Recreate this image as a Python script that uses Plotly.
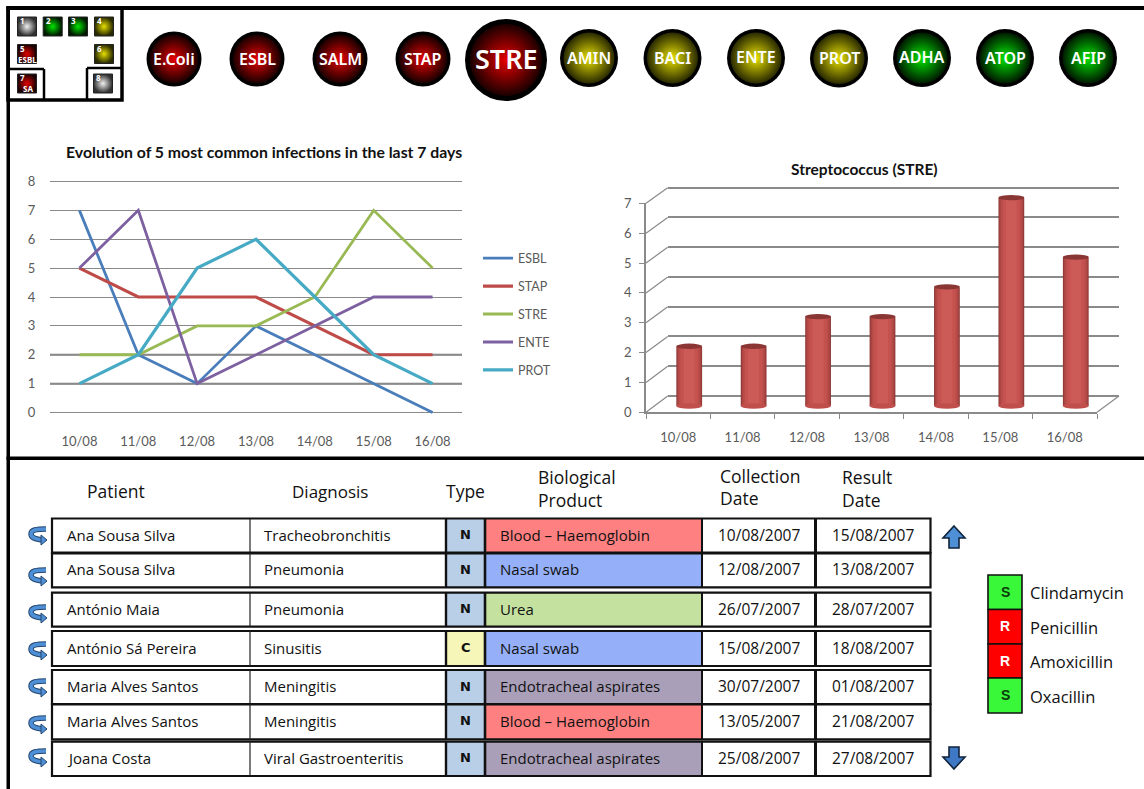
import plotly.graph_objects as go

W, H = 1144, 789

# ---------- data ----------
days = ["10/08", "11/08", "12/08", "13/08", "14/08", "15/08", "16/08"]
esbl = [7, 2, 1, 3, 2, 1, 0]
stap = [5, 4, 4, 4, 3, 2, 2]
stre = [2, 2, 3, 3, 4, 7, 5]
ente = [5, 7, 1, 2, 3, 4, 4]
prot = [1, 2, 5, 6, 4, 2, 1]
series_names = ["ESBL", "STAP", "STRE", "ENTE", "PROT"]
bar_values = [2, 2, 3, 3, 4, 7, 5]
line_ticks = [0, 1, 2, 3, 4, 5, 6, 7, 8]
bar_ticks = [0, 1, 2, 3, 4, 5, 6, 7]

button_labels = ["E.Coli", "ESBL", "SALM", "STAP", "STRE", "AMIN", "BACI", "ENTE", "PROT", "ADHA", "ATOP", "AFIP"]
button_status = ["red", "red", "red", "red", "red", "yellow", "yellow", "yellow", "yellow", "green", "green", "green"]

mini_numbers = ["1", "2", "3", "4", "5", "6", "7", "8"]
mini_status = ["gray", "green", "green", "yellow", "red", "yellow", "red", "gray"]
mini_labels = ["", "", "", "", "ESBL", "", "SA", ""]

patients = ["Ana Sousa Silva", "Ana Sousa Silva", "António Maia", "António Sá Pereira",
            "Maria Alves Santos", "Maria Alves Santos", "Joana Costa"]
diagnoses = ["Tracheobronchitis", "Pneumonia", "Pneumonia", "Sinusitis",
             "Meningitis", "Meningitis", "Viral Gastroenteritis"]
types = ["N", "N", "N", "C", "N", "N", "N"]
products = ["Blood – Haemoglobin", "Nasal swab", "Urea", "Nasal swab",
            "Endotracheal aspirates", "Blood – Haemoglobin", "Endotracheal aspirates"]
collection = ["10/08/2007", "12/08/2007", "26/07/2007", "15/08/2007", "30/07/2007", "13/05/2007", "25/08/2007"]
result = ["15/08/2007", "13/08/2007", "28/07/2007", "18/08/2007", "01/08/2007", "21/08/2007", "27/08/2007"]

drugs = ["Clindamycin", "Penicillin", "Amoxicillin", "Oxacillin"]
sensitivity = ["S", "R", "R", "S"]

# ---------- style ----------
FONT = "Open Sans"
CHART_FONT = "Lato"
GREY = "#5a5a5a"
GRID = "#8a8a8a"
series_colors = ["#4a7ebb", "#be4b48", "#98b954", "#7d60a0", "#46aac5"]
series_widths = [2.8, 3.2, 2.8, 2.8, 3.2]
centre = {"red": "#e60000", "yellow": "#e6e000", "green": "#00e600", "gray": "#f0f0f0"}
edge = {"red": "#1a0000", "yellow": "#2a2a00", "green": "#001a00", "gray": "#303030"}
product_fill = {"Blood": "#ff8080", "Nasal": "#95b0f8", "Urea": "#c4e1a0", "Endotracheal": "#a99fb8"}
type_fill = {"N": "#b9cfe8", "C": "#f5f6b8"}
sens_fill = {"S": "#39f739", "R": "#ff0000"}
sens_text = {"S": "#0b3b0b", "R": "#ffffff"}


def dx(a, b):
    return [a / W, b / W]


def dy(top, bottom):
    return [1 - bottom / H, 1 - top / H]


fig = go.Figure()
shapes = []
notes = []


def rect(x0, y0, x1, y1, fill=None, line=None, lw=0):
    shapes.append(dict(type="rect", xref="x5", yref="y5", x0=x0, y0=y0, x1=x1, y1=y1,
                       fillcolor=fill or "rgba(0,0,0,0)",
                       line=dict(color=line or "rgba(0,0,0,0)", width=lw)))


def seg(x0, y0, x1, y1, color="#000", lw=1, xref="x5", yref="y5", layer="above"):
    shapes.append(dict(type="line", xref=xref, yref=yref, x0=x0, y0=y0, x1=x1, y1=y1,
                       layer=layer, line=dict(color=color, width=lw)))


def note(x, y, text, size=13, color="#111", anchor="left", font=FONT, bold=False, weight=None):
    f = dict(family=font, size=size, color=color)
    if weight:
        f["weight"] = weight
    notes.append(dict(xref="x5", yref="y5", x=x - 2 if anchor == "left" else x, y=y,
                      text=f"<b>{text}</b>" if bold else text,
                      showarrow=False, xanchor=anchor, yanchor="middle", font=f))


def path(d, fill="rgba(0,0,0,0)", line="rgba(0,0,0,0)", lw=1):
    shapes.append(dict(type="path", xref="x5", yref="y5", path=d, fillcolor=fill,
                       line=dict(color=line, width=lw)))


# ---------- line chart ----------
for name, vals, col, lw in zip(series_names, [esbl, stap, stre, ente, prot], series_colors, series_widths):
    fig.add_trace(go.Scatter(x=days, y=vals, mode="lines", name=name, legendgroup=name,
                             line=dict(color=col, width=lw), xaxis="x", yaxis="y"))
for v in [1, 2]:
    seg(-0.5, v, 6.5, v, color="#777777", lw=2, xref="x", yref="y", layer="below")

# ---------- 3D-look bar chart ----------
# front axes carry labels; the wall axes carry the grid; bars sit at mid depth
fig.add_trace(go.Scatter(x=days, y=bar_values, mode="markers", marker=dict(opacity=0), hoverinfo="skip",
                         showlegend=False, xaxis="x2", yaxis="y2"))
fig.add_trace(go.Scatter(x=days, y=bar_values, mode="markers", marker=dict(opacity=0), hoverinfo="skip",
                         showlegend=False, xaxis="x3", yaxis="y3"))
bands = [(0.40, "#8f3a38"), (0.37, "#a84442"), (0.33, "#b84c49"), (0.27, "#c5524f"), (0.17, "#cc5a57")]
for wd, col in bands:
    fig.add_trace(go.Bar(x=days, y=bar_values, width=wd, marker=dict(color=col, line=dict(width=0)),
                         showlegend=False, xaxis="x4", yaxis="y4"))
for i, v in enumerate(bar_values):
    shapes.append(dict(type="circle", xref="x4", yref="y4", x0=i - 0.2, x1=i + 0.2, y0=-0.09, y1=0.09,
                       fillcolor="#c04f4c", line=dict(width=0)))
    shapes.append(dict(type="circle", xref="x4", yref="y4", x0=i - 0.2, x1=i + 0.2, y0=v - 0.08, y1=v + 0.1,
                       fillcolor="#8a3634", line=dict(width=0)))

# depth lines from front axis to back wall
for v in bar_ticks:
    seg(646, 412.3 - v * 29.85, 667.7, 396 - v * 29.75, color=GRID, lw=1.2)
seg(1097, 412.3, 1119, 396, color=GRID, lw=1.2)

# ---------- frame ----------
rect(6.5, 6, W + 5, 10, fill="#000")
rect(6.5, 6, 10, H + 5, fill="#000")
rect(6.5, 456.5, W + 5, 460, fill="#000")
rect(8, 8, 122, 100, line="#000", lw=3.5)
seg(10, 69, 44, 69, lw=2.5)
seg(44, 69, 44, 100, lw=2.5)
seg(87, 68, 122, 68, lw=2.5)
seg(87, 68, 87, 100, lw=2.5)

# ---------- indicator buttons ----------
btn_pos = [(174, 59, 55), (257, 59, 55), (340, 59, 55), (423, 59, 55), (506, 60, 82), (589, 58, 58),
           (672.5, 58, 58), (756, 58, 58), (839, 58.5, 58), (922, 58, 58), (1005, 58, 58), (1088, 58, 58)]
btn_font = [16, 16, 16, 16, 27, 16, 16, 16, 16, 16, 16, 16]
btn_dy = [0, 0, 0, 0, -2, 0, 0, -1, -0.5, -1, 0, 0]
xs = [p[0] for p in btn_pos]
ys = [p[1] for p in btn_pos]
fig.add_trace(go.Scatter(x=xs, y=ys, mode="markers", showlegend=False, hoverinfo="skip", xaxis="x5", yaxis="y5",
                         marker=dict(size=[p[2] for p in btn_pos], color="#000", opacity=1, line=dict(width=0))))
fig.add_trace(go.Scatter(x=xs, y=ys, mode="markers", showlegend=False, hoverinfo="skip", xaxis="x5", yaxis="y5",
                         marker=dict(size=[p[2] * 0.88 for p in btn_pos], color=[edge[s] for s in button_status],
                                     opacity=1, line=dict(width=0),
                                     gradient=dict(type="radial", color=[centre[s] for s in button_status]))))
for lab, (x, y, _), fs, off in zip(button_labels, btn_pos, btn_font, btn_dy):
    note(x, y + off, lab, size=fs, color="#fff", anchor="center", font="Noto Sans", weight=600)

# ---------- mini map ----------
mini_pos = [(27, 26.5), (52.7, 26.5), (78, 26.5), (104, 26.5), (27, 54), (104, 54), (27, 83.5), (103, 83.5)]
fig.add_trace(go.Scatter(x=[p[0] for p in mini_pos], y=[p[1] for p in mini_pos], mode="markers", showlegend=False,
                         hoverinfo="skip", xaxis="x5", yaxis="y5",
                         marker=dict(symbol="square", size=19, color=[edge[s] for s in mini_status], opacity=1,
                                     line=dict(width=1, color="#222"),
                                     gradient=dict(type="radial", color=[centre[s] for s in mini_status]))))
for num, lab, (x, y) in zip(mini_numbers, mini_labels, mini_pos):
    note(x - 7, y - 6, num, size=8, color="#fff", anchor="left", font="Noto Sans", bold=True)
    if lab:
        note(x + 0.5, y + 5, lab, size=8, color="#fff", anchor="center", font="Noto Sans", bold=True)

# ---------- table ----------
col_edges = [52, 250, 446, 485, 702, 815.5, 930.5]
row_edges = [(518.5, 552.7), (553.3, 587.3), (592.7, 626.7), (631, 666), (670, 704), (704.3, 739.3), (741.7, 776)]
for (top, bot), pat, dia, typ, prod, col, res in zip(row_edges, patients, diagnoses, types, products, collection, result):
    mid = (top + bot) / 2 - 1
    rect(col_edges[2], top, col_edges[3], bot, fill=type_fill[typ])
    rect(col_edges[3], top, col_edges[4], bot, fill=product_fill[prod.split()[0]])
    rect(col_edges[0], top, col_edges[6], bot, line="#111", lw=2.2)
    seg(col_edges[1], top, col_edges[1], bot, lw=1.2, color="#222")
    seg(col_edges[2], top, col_edges[2], bot, lw=2.4, color="#111")
    seg(col_edges[3], top, col_edges[3], bot, lw=2.6, color="#111")
    seg(col_edges[4], top, col_edges[4], bot, lw=2, color="#111")
    seg(col_edges[5], top, col_edges[5], bot, lw=3, color="#111")
    note(67, mid, pat, size=15)
    note(264, mid, dia, size=15)
    note(465.5, mid, typ, size=13, anchor="center", font="DejaVu Sans", bold=True)
    note(500, mid, prod, size=15)
    note(759, mid, col, size=15.5, anchor="center")
    note(873, mid, res, size=15.5, anchor="center")

note(87, 491, "Patient", size=17.5)
note(292, 491, "Diagnosis", size=17)
note(446, 491, "Type", size=17.5)
note(538, 477, "Biological", size=17.5)
note(538, 500, "Product", size=17.5)
note(720, 476, "Collection", size=17.5)
note(720, 498, "Date", size=17.5)
note(842, 477, "Result", size=17.5)
note(842, 500, "Date", size=17.5)

# return icons beside each row
icon_y = [536, 577, 614, 651, 688, 725, 758]
for y in icon_y:
    d = f"M 46 {y-7} C 36 {y-7} 31 {y-6} 31 {y-2} C 31 {y+2} 36 {y+3} 42 {y+4}"
    shapes.append(dict(type="path", xref="x5", yref="y5", path=d, line=dict(color="#24466e", width=5.5)))
    shapes.append(dict(type="path", xref="x5", yref="y5", path=d, line=dict(color="#4f8fd6", width=3.5)))
    path(f"M 41 {y-1} L 47 {y+4} L 41 {y+9} Z", fill="#4f8fd6", line="#24466e", lw=1)

# scroll arrows
path("M 954 526 L 965 538 L 959 538 L 959 548 L 949 548 L 949 538 L 943 538 Z", fill="#4f8fd6", line="#11233a", lw=1.6)
path("M 954 769 L 965 757 L 959 757 L 959 747 L 949 747 L 949 757 L 943 757 Z", fill="#3f78c4", line="#11233a", lw=1.6)

# ---------- sensitivity panel ----------
sens_edges = [575, 609.5, 644, 678, 713]
for i, (s, d) in enumerate(zip(sensitivity, drugs)):
    y0, y1 = sens_edges[i], sens_edges[i + 1]
    rect(988, y0, 1022, y1, fill=sens_fill[s], line="#111", lw=1.6)
    note(1005, (y0 + y1) / 2 - 0.5, s, size=14, color=sens_text[s], anchor="center", font="Liberation Sans", bold=True)
    note(1030, (y0 + y1) / 2 + 0.5, d, size=16.5)

# ---------- chart titles ----------
note(264, 151.5, "Evolution of 5 most common infections in the last 7 days", size=15.8, anchor="center", font=CHART_FONT, bold=True)
note(864, 169, "Streptococcus (STRE)", size=15.5, anchor="center", font=CHART_FONT, bold=True)

tick_font = dict(family=CHART_FONT, size=13, color=GREY)
fig.update_layout(
    width=W, height=H, margin=dict(l=0, r=0, t=0, b=0, pad=0, autoexpand=False),
    paper_bgcolor="#ffffff", plot_bgcolor="rgba(0,0,0,0)", barmode="overlay", hovermode=False,
    shapes=shapes, annotations=notes,
    legend=dict(x=478 / W, y=1 - 243.5 / H, xanchor="left", yanchor="top", tracegroupgap=8.7, itemwidth=30,
                bgcolor="rgba(0,0,0,0)", font=dict(family=CHART_FONT, size=12.5, color=GREY)),
    # line chart (range padded half a unit so the 0 and 8 gridlines are drawn)
    xaxis=dict(domain=dx(50, 462), anchor="y", type="category", range=[-0.5, 6.5], showgrid=False, showline=False,
               ticks="outside", ticklen=2, tickcolor="rgba(0,0,0,0)", tickfont=tick_font, zeroline=False),
    yaxis=dict(domain=dy(181.5 - 14.44, 412.5 + 14.44), anchor="x", range=[-0.5, 8.5], tickmode="array",
               tickvals=line_ticks, showgrid=True, gridcolor=GRID, gridwidth=1.2,
               zeroline=False, showline=False, ticks="outside", ticklen=11, tickcolor="rgba(0,0,0,0)", tickfont=tick_font),
    # bar chart: front axes
    xaxis2=dict(domain=dx(646, 1097), anchor="y2", type="category", range=[-0.5, 6.5], showgrid=False, showline=True,
                linecolor=GRID, linewidth=1.5, ticks="outside", tickson="boundaries", ticklen=5, tickcolor=GRID,
                ticklabelstandoff=12, tickfont=tick_font, zeroline=False),
    yaxis2=dict(domain=dy(203.3, 412.3), anchor="x2", range=[0, 7], tickmode="array", tickvals=bar_ticks,
                showgrid=False, showline=True, linecolor=GRID, linewidth=1.5, ticks="outside", ticklen=5,
                tickcolor=GRID, ticklabelstandoff=5, tickfont=tick_font, zeroline=False),
    # bar chart: back wall grid (range padded so the 0 and 7 lines are drawn)
    xaxis3=dict(domain=dx(667.7, 1119), anchor="y3", type="category", range=[-0.5, 6.5], visible=False),
    yaxis3=dict(domain=dy(187.7 - 14.88, 396 + 14.88), anchor="x3", range=[-0.5, 7.5], tickmode="array",
                tickvals=bar_ticks, showgrid=True, gridcolor=GRID, gridwidth=1.5,
                zeroline=False, showline=False, ticks="", showticklabels=False),
    # bar chart: bars at mid depth (range padded so the elliptical caps are not clipped)
    xaxis4=dict(domain=dx(657, 1108), anchor="y4", type="category", range=[-0.5, 6.5], visible=False),
    yaxis4=dict(domain=dy(198 - 14.86, 406 + 14.86), anchor="x4", range=[-0.5, 7.5], visible=False),
    # pixel overlay for the dashboard furniture
    xaxis5=dict(domain=[0, 1], anchor="y5", range=[0, W], visible=False),
    yaxis5=dict(domain=[0, 1], anchor="x5", range=[H, 0], visible=False),
)

fig.write_html("out.html", config=dict(displayModeBar=False),
               post_script="document.body.style.margin='0';document.documentElement.style.overflow='hidden';")
